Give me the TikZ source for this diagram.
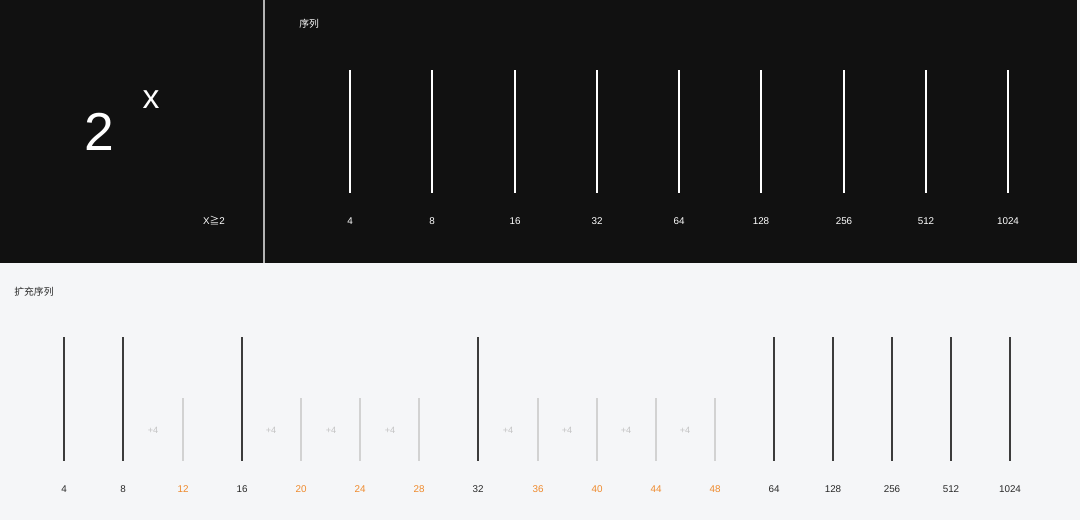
\documentclass[tikz,border=0pt]{standalone}
\usepackage{fontspec}
\setmainfont{Liberation Sans}
\newfontfamily\cjk{Noto Sans CJK SC}
\usetikzlibrary{positioning}

\definecolor{darkbg}{HTML}{111111}
\definecolor{lightbg}{HTML}{F5F6F8}
\definecolor{divider}{HTML}{B4B4B4}
\definecolor{tickdark}{HTML}{3C3C3C}
\definecolor{ticklight}{HTML}{D2D2D2}
\definecolor{steptext}{HTML}{C4C4C4}
\definecolor{numdark}{HTML}{2A2A2A}
\definecolor{numorange}{HTML}{EF8A2C}

\tikzset{
  numlabel/.style={font=\fontsize{7}{8}\selectfont, inner sep=0pt},
  titlelabel/.style={font=\cjk\fontsize{7}{8}\selectfont, inner sep=0pt, anchor=west},
  steplabel/.style={font=\fontsize{6.5}{7}\selectfont, text=steptext, inner sep=0pt}
}

\begin{document}
\begin{tikzpicture}[x=0.025cm, y=-0.025cm]
\useasboundingbox (0,0) rectangle (1080,520);

% Backgrounds
\fill[lightbg] (0,0) rectangle (1080,520);
\fill[darkbg] (0,0) rectangle (1077,263);
\draw[divider, line width=1pt] (264,0) -- (264,263);

% Formula panel
\node[font=\fontsize{38}{40}\selectfont, text=white, inner sep=0pt] (base) at (99,132) {2};
\node[font=\fontsize{24}{26}\selectfont, text=white, inner sep=0pt] (expo) at (151,100) {x};
\node[numlabel, text=white] (cond) at (214,221) {X{\cjk ≧}2};

% Sequence 2^x
\node[titlelabel, text=white] (seqtitle) at (299,24) {序列};
\foreach \x/\n in {350/4, 432/8, 515/16, 597/32, 679/64, 761/128, 844/256, 926/512, 1008/1024} {
    \draw[white, line width=1pt] (\x,70) -- (\x,193);
    \node[numlabel, text=white] at (\x,221) {\n};
}

% Extended sequence
\node[titlelabel, text=numdark] (exttitle) at (14,292) {扩充序列};

% Powers of two
\foreach \x/\n in {64/4, 123/8, 242/16, 478/32, 774/64, 833/128, 892/256, 951/512, 1010/1024} {
    \draw[tickdark, line width=1pt] (\x,337) -- (\x,461);
    \node[numlabel, text=numdark] at (\x,489) {\n};
}

% Filled steps
\foreach \x/\n in {183/12, 301/20, 360/24, 419/28, 538/36, 597/40, 656/44, 715/48} {
    \draw[ticklight, line width=0.8pt] (\x,398) -- (\x,461);
    \node[numlabel, text=numorange] at (\x,489) {\n};
}

% +4 marks
\foreach \x in {153, 271, 331, 390, 508, 567, 626, 685} {
    \node[steplabel] at (\x,430) {+4};
}
\end{tikzpicture}
\end{document}
